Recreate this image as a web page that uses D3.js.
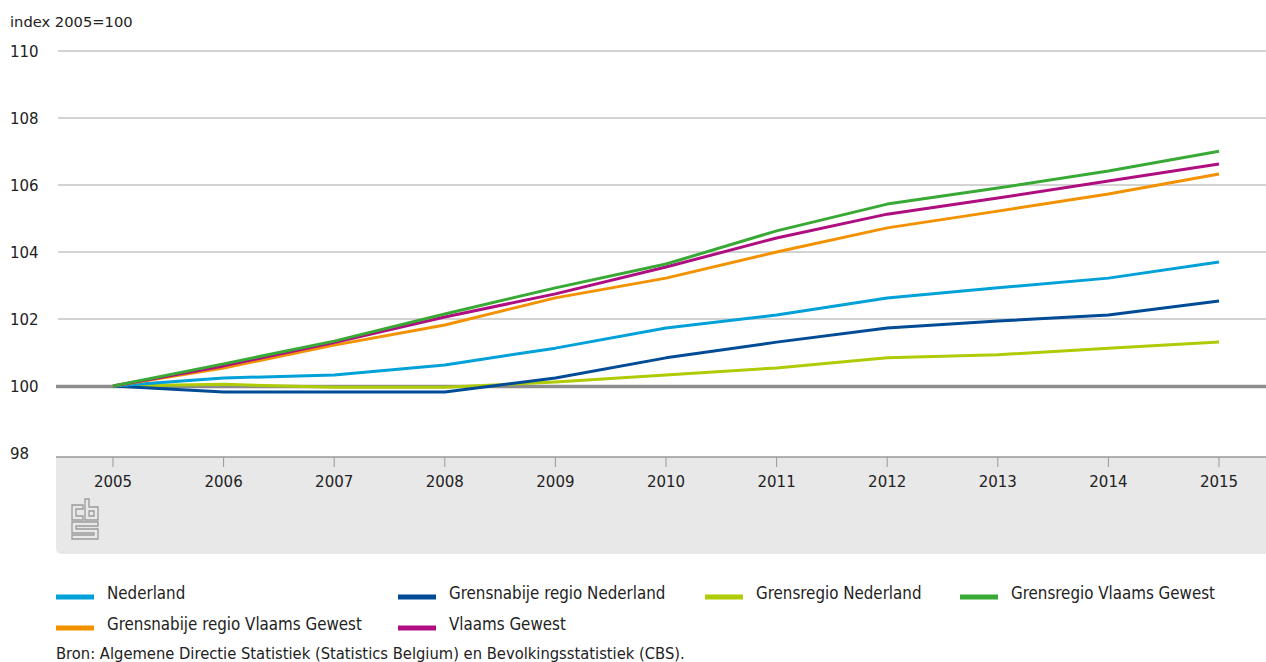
<!DOCTYPE html>
<html><head><meta charset="utf-8">
<script src="https://cdn.jsdelivr.net/npm/d3@7"></script>
<style>body{margin:0;background:#fff;}svg{display:block;}</style>
</head><body>
<svg id="c" width="1266" height="662"></svg>
<script>
const years = [2005,2006,2007,2008,2009,2010,2011,2012,2013,2014,2015];
const yTicks = [98,100,102,104,106,108,110];
const seriesNames = ["Nederland","Grensnabije regio Nederland","Grensregio Nederland","Grensregio Vlaams Gewest","Grensnabije regio Vlaams Gewest","Vlaams Gewest"];
const seriesColors = ["#00a1d8","#004b96","#afcb05","#39a935","#f39200","#af0e80"];
const nederland = [100,100.24,100.33,100.63,101.13,101.73,102.12,102.63,102.93,103.22,103.7];
const grensnabijeNL = [100,99.82,99.82,99.82,100.24,100.84,101.31,101.73,101.94,102.12,102.54];
const grensregioNL = [100,100.05,99.96,99.96,100.12,100.33,100.54,100.84,100.93,101.13,101.31];
const grensregioVG = [100,100.66,101.34,102.15,102.93,103.64,104.63,105.43,105.91,106.42,107.01];
const grensnabijeVG = [100,100.54,101.22,101.82,102.63,103.22,104.0,104.72,105.22,105.73,106.33];
const vlaamsGewest = [100,100.6,101.3,102.06,102.75,103.55,104.42,105.13,105.61,106.12,106.63];
const seriesValues = [nederland,grensnabijeNL,grensregioNL,grensregioVG,grensnabijeVG,vlaamsGewest];

const svg = d3.select("#c");
const font = "DejaVu Sans";
const condFont = "DejaVu Sans Condensed, DejaVu Sans";
const x = d3.scalePoint().domain(years).range([113,1219]);
const y = d3.scaleLinear().domain([98,110]).range([453,51]);

// grey bottom panel
svg.append("path")
  .attr("d","M56,457 H1266 V554 H62 Q56,554 56,548 Z")
  .attr("fill","#e8e8e8");
svg.append("line").attr("x1",56).attr("x2",1266).attr("y1",457).attr("y2",457)
  .attr("stroke","#999").attr("stroke-width",1.5);

// grid
svg.append("g").selectAll("line").data(yTicks.filter(d=>d!==98&&d!==100)).join("line")
  .attr("x1",58).attr("x2",1266).attr("y1",d=>y(d)).attr("y2",d=>y(d))
  .attr("stroke","#c4c4c4").attr("stroke-width",1.5);
svg.append("g").selectAll("text").data(yTicks).join("text")
  .attr("x",10).attr("y",d=>y(d)+5.5).text(d=>d)
  .attr("font-family",font).attr("font-size",15).attr("fill","#222");
svg.append("text").attr("x",10).attr("y",27).text("index 2005=100")
  .attr("font-family",font).attr("font-size",14.7).attr("fill","#222");

// x axis
const xg = svg.append("g");
xg.selectAll("line").data(years).join("line")
  .attr("x1",d=>x(d)).attr("x2",d=>x(d)).attr("y1",457).attr("y2",467)
  .attr("stroke","#999").attr("stroke-width",1);
xg.selectAll("text").data(years).join("text")
  .attr("x",d=>x(d)).attr("y",487).attr("text-anchor","middle").text(d=>d)
  .attr("font-family",font).attr("font-size",15).attr("fill","#222");

// lines
const line = d3.line().x((d,i)=>x(years[i])).y(d=>y(d));
const order = [2,1,0,4,5,3];
// 100 baseline
svg.append("line").attr("x1",56).attr("x2",1266).attr("y1",y(100)+0.5).attr("y2",y(100)+0.5)
  .attr("stroke","#8c8c8c").attr("stroke-width",3.5);
order.forEach(i=>{
  svg.append("path").attr("d",line(seriesValues[i])).attr("fill","none")
    .attr("stroke",seriesColors[i]).attr("stroke-width",3).attr("stroke-linejoin","round");
});

// cbs logo
const lg = svg.append("g").attr("fill","none").attr("stroke","#9a9a9a").attr("stroke-width",1.3);
lg.append("path").attr("d","M83,505 H72 V520 H83 V516 H76 V509 H83 Z");
lg.append("path").attr("d","M85,499 H89 V507 H98 V520 H85 Z M89,511 H94 V516 H89 Z");
lg.append("path").attr("d","M72,522 H98 V526 H76 V529 H98 V539 H72 V535 H94 V533 H72 Z");

// legend
const legCols = [56,398,705,960];
const lgnd = svg.append("g");
seriesNames.forEach((name,k)=>{
  const col = k%4, row = Math.floor(k/4);
  const lx = legCols[col], ly = 597 + row*31;
  lgnd.append("rect").attr("x",lx).attr("y",ly-2.5).attr("width",38).attr("height",5).attr("fill",seriesColors[k]);
  lgnd.append("text").attr("x",lx+51).attr("y",ly+2).text(name)
    .attr("font-family",condFont).attr("font-stretch","condensed")
    .attr("font-size",16.8).attr("fill","#222");
});
svg.append("text").attr("x",56).attr("y",659)
  .text("Bron: Algemene Directie Statistiek (Statistics Belgium) en Bevolkingsstatistiek (CBS).")
  .attr("font-family",condFont).attr("font-stretch","condensed")
  .attr("font-size",16.4).attr("fill","#222");
</script>
</body></html>
